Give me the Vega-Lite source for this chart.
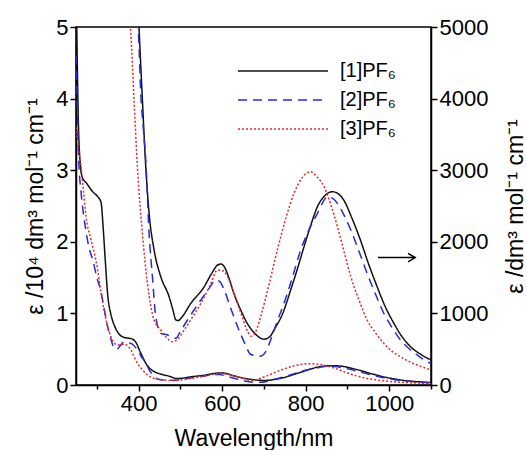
{
  "$schema": "https://vega.github.io/schema/vega-lite/v6.json",
  "width": 355,
  "height": 358,
  "autosize": "none",
  "padding": {"left": 76, "top": 27, "right": 96, "bottom": 65},
  "background": "white",
  "config": {
    "view": {"stroke": "black", "strokeWidth": 1.5},
    "font": "Liberation Sans",
    "axis": {
      "domainColor": "black", "domainWidth": 1.5, "tickColor": "black", "tickWidth": 1.5, "tickSize": 6,
      "labelColor": "black", "titleColor": "black", "labelFontSize": 22, "titleFontSize": 23,
      "titleFontWeight": "normal", "grid": false, "labelFont": "Liberation Sans", "titleFont": "Liberation Sans",
      "labelPadding": 2
    },
    "legend": {
      "orient": "none", "legendX": 197, "legendY": 34, "title": null,
      "symbolType": "M-5,0H5", "symbolSize": 324, "symbolStrokeWidth": 1.5,
      "labelFontSize": 20, "labelFont": "Liberation Sans", "labelColor": "black", "labelOffset": 47, "rowPadding": 9
    }
  },
  "datasets": {
    "spectra": [
      {"compound": "[1]PF₆", "wl": 250, "eps": 55000},
      {"compound": "[1]PF₆", "wl": 253, "eps": 45000},
      {"compound": "[1]PF₆", "wl": 256, "eps": 36000},
      {"compound": "[1]PF₆", "wl": 260, "eps": 31000},
      {"compound": "[1]PF₆", "wl": 265, "eps": 29000},
      {"compound": "[1]PF₆", "wl": 275, "eps": 28200},
      {"compound": "[1]PF₆", "wl": 290, "eps": 27000},
      {"compound": "[1]PF₆", "wl": 302, "eps": 26300},
      {"compound": "[1]PF₆", "wl": 310, "eps": 25500},
      {"compound": "[1]PF₆", "wl": 315, "eps": 22000},
      {"compound": "[1]PF₆", "wl": 320, "eps": 17500},
      {"compound": "[1]PF₆", "wl": 326, "eps": 12500},
      {"compound": "[1]PF₆", "wl": 333, "eps": 10000},
      {"compound": "[1]PF₆", "wl": 342, "eps": 8300},
      {"compound": "[1]PF₆", "wl": 355, "eps": 7000},
      {"compound": "[1]PF₆", "wl": 368, "eps": 6600},
      {"compound": "[1]PF₆", "wl": 380, "eps": 6500},
      {"compound": "[1]PF₆", "wl": 388, "eps": 6300},
      {"compound": "[1]PF₆", "wl": 395, "eps": 5800},
      {"compound": "[1]PF₆", "wl": 401, "eps": 4980},
      {"compound": "[1]PF₆", "wl": 409, "eps": 3980},
      {"compound": "[1]PF₆", "wl": 417, "eps": 3050},
      {"compound": "[1]PF₆", "wl": 425, "eps": 2400},
      {"compound": "[1]PF₆", "wl": 437, "eps": 1885},
      {"compound": "[1]PF₆", "wl": 453, "eps": 1512},
      {"compound": "[1]PF₆", "wl": 473, "eps": 1233},
      {"compound": "[1]PF₆", "wl": 482, "eps": 1050},
      {"compound": "[1]PF₆", "wl": 489, "eps": 910},
      {"compound": "[1]PF₆", "wl": 495, "eps": 900},
      {"compound": "[1]PF₆", "wl": 501, "eps": 930},
      {"compound": "[1]PF₆", "wl": 525, "eps": 1141},
      {"compound": "[1]PF₆", "wl": 557, "eps": 1373},
      {"compound": "[1]PF₆", "wl": 575, "eps": 1560},
      {"compound": "[1]PF₆", "wl": 589, "eps": 1676},
      {"compound": "[1]PF₆", "wl": 597, "eps": 1690},
      {"compound": "[1]PF₆", "wl": 605, "eps": 1652},
      {"compound": "[1]PF₆", "wl": 617, "eps": 1480},
      {"compound": "[1]PF₆", "wl": 628, "eps": 1281},
      {"compound": "[1]PF₆", "wl": 645, "eps": 1040},
      {"compound": "[1]PF₆", "wl": 660, "eps": 862},
      {"compound": "[1]PF₆", "wl": 680, "eps": 710},
      {"compound": "[1]PF₆", "wl": 700, "eps": 640},
      {"compound": "[1]PF₆", "wl": 715, "eps": 680},
      {"compound": "[1]PF₆", "wl": 724, "eps": 768},
      {"compound": "[1]PF₆", "wl": 745, "eps": 1000},
      {"compound": "[1]PF₆", "wl": 764, "eps": 1327},
      {"compound": "[1]PF₆", "wl": 780, "eps": 1620},
      {"compound": "[1]PF₆", "wl": 796, "eps": 1932},
      {"compound": "[1]PF₆", "wl": 812, "eps": 2230},
      {"compound": "[1]PF₆", "wl": 828, "eps": 2490},
      {"compound": "[1]PF₆", "wl": 845, "eps": 2640},
      {"compound": "[1]PF₆", "wl": 864, "eps": 2700},
      {"compound": "[1]PF₆", "wl": 878, "eps": 2670},
      {"compound": "[1]PF₆", "wl": 891, "eps": 2584},
      {"compound": "[1]PF₆", "wl": 910, "eps": 2340},
      {"compound": "[1]PF₆", "wl": 931, "eps": 2025},
      {"compound": "[1]PF₆", "wl": 950, "eps": 1700},
      {"compound": "[1]PF₆", "wl": 971, "eps": 1373},
      {"compound": "[1]PF₆", "wl": 990, "eps": 1100},
      {"compound": "[1]PF₆", "wl": 1011, "eps": 862},
      {"compound": "[1]PF₆", "wl": 1030, "eps": 680},
      {"compound": "[1]PF₆", "wl": 1051, "eps": 535},
      {"compound": "[1]PF₆", "wl": 1075, "eps": 430},
      {"compound": "[1]PF₆", "wl": 1100, "eps": 349},

      {"compound": "[2]PF₆", "wl": 250, "eps": 46000},
      {"compound": "[2]PF₆", "wl": 253, "eps": 39000},
      {"compound": "[2]PF₆", "wl": 256, "eps": 32000},
      {"compound": "[2]PF₆", "wl": 262, "eps": 27000},
      {"compound": "[2]PF₆", "wl": 270, "eps": 23000},
      {"compound": "[2]PF₆", "wl": 282, "eps": 19000},
      {"compound": "[2]PF₆", "wl": 290, "eps": 17500},
      {"compound": "[2]PF₆", "wl": 300, "eps": 15000},
      {"compound": "[2]PF₆", "wl": 310, "eps": 13000},
      {"compound": "[2]PF₆", "wl": 318, "eps": 10500},
      {"compound": "[2]PF₆", "wl": 326, "eps": 8100},
      {"compound": "[2]PF₆", "wl": 334, "eps": 6300},
      {"compound": "[2]PF₆", "wl": 342, "eps": 5100},
      {"compound": "[2]PF₆", "wl": 348, "eps": 5000},
      {"compound": "[2]PF₆", "wl": 356, "eps": 5500},
      {"compound": "[2]PF₆", "wl": 365, "eps": 6000},
      {"compound": "[2]PF₆", "wl": 375, "eps": 5900},
      {"compound": "[2]PF₆", "wl": 385, "eps": 5700},
      {"compound": "[2]PF₆", "wl": 395, "eps": 5100},
      {"compound": "[2]PF₆", "wl": 400, "eps": 4850},
      {"compound": "[2]PF₆", "wl": 405, "eps": 4074},
      {"compound": "[2]PF₆", "wl": 411, "eps": 3600},
      {"compound": "[2]PF₆", "wl": 417, "eps": 3142},
      {"compound": "[2]PF₆", "wl": 425, "eps": 2120},
      {"compound": "[2]PF₆", "wl": 433, "eps": 1512},
      {"compound": "[2]PF₆", "wl": 441, "eps": 953},
      {"compound": "[2]PF₆", "wl": 453, "eps": 722},
      {"compound": "[2]PF₆", "wl": 469, "eps": 698},
      {"compound": "[2]PF₆", "wl": 480, "eps": 670},
      {"compound": "[2]PF₆", "wl": 489, "eps": 652},
      {"compound": "[2]PF₆", "wl": 500, "eps": 750},
      {"compound": "[2]PF₆", "wl": 517, "eps": 908},
      {"compound": "[2]PF₆", "wl": 549, "eps": 1187},
      {"compound": "[2]PF₆", "wl": 570, "eps": 1360},
      {"compound": "[2]PF₆", "wl": 585, "eps": 1466},
      {"compound": "[2]PF₆", "wl": 593, "eps": 1450},
      {"compound": "[2]PF₆", "wl": 605, "eps": 1327},
      {"compound": "[2]PF₆", "wl": 620, "eps": 1080},
      {"compound": "[2]PF₆", "wl": 637, "eps": 814},
      {"compound": "[2]PF₆", "wl": 655, "eps": 570},
      {"compound": "[2]PF₆", "wl": 668, "eps": 430},
      {"compound": "[2]PF₆", "wl": 690, "eps": 400},
      {"compound": "[2]PF₆", "wl": 705, "eps": 470},
      {"compound": "[2]PF₆", "wl": 716, "eps": 628},
      {"compound": "[2]PF₆", "wl": 730, "eps": 860},
      {"compound": "[2]PF₆", "wl": 748, "eps": 1141},
      {"compound": "[2]PF₆", "wl": 768, "eps": 1500},
      {"compound": "[2]PF₆", "wl": 788, "eps": 1885},
      {"compound": "[2]PF₆", "wl": 808, "eps": 2170},
      {"compound": "[2]PF₆", "wl": 828, "eps": 2398},
      {"compound": "[2]PF₆", "wl": 840, "eps": 2540},
      {"compound": "[2]PF₆", "wl": 852, "eps": 2630},
      {"compound": "[2]PF₆", "wl": 864, "eps": 2610},
      {"compound": "[2]PF₆", "wl": 876, "eps": 2537},
      {"compound": "[2]PF₆", "wl": 892, "eps": 2370},
      {"compound": "[2]PF₆", "wl": 908, "eps": 2165},
      {"compound": "[2]PF₆", "wl": 928, "eps": 1860},
      {"compound": "[2]PF₆", "wl": 947, "eps": 1560},
      {"compound": "[2]PF₆", "wl": 967, "eps": 1270},
      {"compound": "[2]PF₆", "wl": 987, "eps": 1001},
      {"compound": "[2]PF₆", "wl": 1007, "eps": 800},
      {"compound": "[2]PF₆", "wl": 1027, "eps": 628},
      {"compound": "[2]PF₆", "wl": 1047, "eps": 510},
      {"compound": "[2]PF₆", "wl": 1067, "eps": 419},
      {"compound": "[2]PF₆", "wl": 1085, "eps": 345},
      {"compound": "[2]PF₆", "wl": 1100, "eps": 300},

      {"compound": "[3]PF₆", "wl": 250, "eps": 36000},
      {"compound": "[3]PF₆", "wl": 254, "eps": 33800},
      {"compound": "[3]PF₆", "wl": 262, "eps": 30500},
      {"compound": "[3]PF₆", "wl": 268, "eps": 27000},
      {"compound": "[3]PF₆", "wl": 274, "eps": 23500},
      {"compound": "[3]PF₆", "wl": 285, "eps": 20500},
      {"compound": "[3]PF₆", "wl": 294, "eps": 18400},
      {"compound": "[3]PF₆", "wl": 302, "eps": 16000},
      {"compound": "[3]PF₆", "wl": 310, "eps": 12800},
      {"compound": "[3]PF₆", "wl": 318, "eps": 10200},
      {"compound": "[3]PF₆", "wl": 326, "eps": 8100},
      {"compound": "[3]PF₆", "wl": 334, "eps": 6700},
      {"compound": "[3]PF₆", "wl": 342, "eps": 5800},
      {"compound": "[3]PF₆", "wl": 352, "eps": 5600},
      {"compound": "[3]PF₆", "wl": 366, "eps": 5700},
      {"compound": "[3]PF₆", "wl": 375, "eps": 5400},
      {"compound": "[3]PF₆", "wl": 381, "eps": 4935},
      {"compound": "[3]PF₆", "wl": 389, "eps": 3980},
      {"compound": "[3]PF₆", "wl": 397, "eps": 3049},
      {"compound": "[3]PF₆", "wl": 409, "eps": 2119},
      {"compound": "[3]PF₆", "wl": 421, "eps": 1420},
      {"compound": "[3]PF₆", "wl": 437, "eps": 908},
      {"compound": "[3]PF₆", "wl": 453, "eps": 768},
      {"compound": "[3]PF₆", "wl": 467, "eps": 660},
      {"compound": "[3]PF₆", "wl": 481, "eps": 605},
      {"compound": "[3]PF₆", "wl": 495, "eps": 650},
      {"compound": "[3]PF₆", "wl": 509, "eps": 768},
      {"compound": "[3]PF₆", "wl": 529, "eps": 950},
      {"compound": "[3]PF₆", "wl": 549, "eps": 1141},
      {"compound": "[3]PF₆", "wl": 570, "eps": 1380},
      {"compound": "[3]PF₆", "wl": 589, "eps": 1606},
      {"compound": "[3]PF₆", "wl": 600, "eps": 1600},
      {"compound": "[3]PF₆", "wl": 613, "eps": 1512},
      {"compound": "[3]PF₆", "wl": 630, "eps": 1250},
      {"compound": "[3]PF₆", "wl": 645, "eps": 1001},
      {"compound": "[3]PF₆", "wl": 660, "eps": 760},
      {"compound": "[3]PF₆", "wl": 670, "eps": 680},
      {"compound": "[3]PF₆", "wl": 680, "eps": 740},
      {"compound": "[3]PF₆", "wl": 692, "eps": 953},
      {"compound": "[3]PF₆", "wl": 712, "eps": 1400},
      {"compound": "[3]PF₆", "wl": 732, "eps": 1885},
      {"compound": "[3]PF₆", "wl": 752, "eps": 2320},
      {"compound": "[3]PF₆", "wl": 772, "eps": 2677},
      {"compound": "[3]PF₆", "wl": 792, "eps": 2900},
      {"compound": "[3]PF₆", "wl": 812, "eps": 2979},
      {"compound": "[3]PF₆", "wl": 828, "eps": 2900},
      {"compound": "[3]PF₆", "wl": 844, "eps": 2770},
      {"compound": "[3]PF₆", "wl": 860, "eps": 2520},
      {"compound": "[3]PF₆", "wl": 876, "eps": 2211},
      {"compound": "[3]PF₆", "wl": 892, "eps": 1860},
      {"compound": "[3]PF₆", "wl": 908, "eps": 1512},
      {"compound": "[3]PF₆", "wl": 928, "eps": 1180},
      {"compound": "[3]PF₆", "wl": 947, "eps": 908},
      {"compound": "[3]PF₆", "wl": 967, "eps": 730},
      {"compound": "[3]PF₆", "wl": 987, "eps": 582},
      {"compound": "[3]PF₆", "wl": 1007, "eps": 470},
      {"compound": "[3]PF₆", "wl": 1027, "eps": 395},
      {"compound": "[3]PF₆", "wl": 1047, "eps": 330},
      {"compound": "[3]PF₆", "wl": 1067, "eps": 279},
      {"compound": "[3]PF₆", "wl": 1085, "eps": 240},
      {"compound": "[3]PF₆", "wl": 1100, "eps": 209}
    ],
    "arrow": [
      {"wl": 973, "wl2": 1062, "eps": 1780}
    ]
  },
  "layer": [
    {
      "data": {"name": "spectra"},
      "mark": {"type": "line", "clip": true, "strokeWidth": 1.5, "interpolate": "monotone"},
      "encoding": {
        "x": {
          "field": "wl", "type": "quantitative",
          "scale": {"domain": [250, 1100], "nice": false, "zero": false},
          "axis": {
            "title": "Wavelength/nm", "values": [300, 400, 500, 600, 700, 800, 900, 1000, 1100],
            "format": "d",
            "labelExpr": "datum.value % 200 === 0 ? datum.label : ''",
            "tickSize": {"condition": {"test": "datum.value % 200 === 0", "value": 6}, "value": 4},
            "titlePadding": 13
          }
        },
        "y": {
          "field": "eps", "type": "quantitative",
          "scale": {"domain": [0, 50000], "nice": false},
          "axis": {
            "title": "ε /10⁴ dm³ mol⁻¹ cm⁻¹",
            "values": [0, 10000, 20000, 30000, 40000, 50000],
            "labelExpr": "format(datum.value / 10000, 'd')",
            "titlePadding": 8
          }
        },
        "color": {
          "field": "compound", "type": "nominal",
          "scale": {"domain": ["[1]PF₆", "[2]PF₆", "[3]PF₆"], "range": ["#111111", "#2a2ad8", "#e62828"]}
        },
        "strokeDash": {
          "field": "compound", "type": "nominal",
          "scale": {"domain": ["[1]PF₆", "[2]PF₆", "[3]PF₆"], "range": [[1, 0], [9, 6], [2, 2]]}
        }
      }
    },
    {
      "layer": [
        {
          "data": {"name": "spectra"},
          "mark": {"type": "line", "clip": true, "strokeWidth": 1.5, "interpolate": "monotone"},
          "encoding": {
            "x": {"field": "wl", "type": "quantitative"},
            "y": {
              "field": "eps", "type": "quantitative",
              "scale": {"domain": [0, 5000], "nice": false},
              "axis": {
                "orient": "right",
                "title": "ε /dm³ mol⁻¹ cm⁻¹",
                "titleAngle": 270,
                "titleBaseline": "top",
                "values": [0, 500, 1000, 1500, 2000, 2500, 3000, 3500, 4000, 4500, 5000],
                "format": "d",
                "labelExpr": "datum.value % 1000 === 0 ? datum.label : ''",
                "tickSize": {"condition": {"test": "datum.value % 1000 === 0", "value": 6}, "value": 4},
                "titlePadding": 17
              }
            },
            "color": {"field": "compound", "type": "nominal"},
            "strokeDash": {"field": "compound", "type": "nominal"}
          }
        },
        {
          "data": {"name": "arrow"},
          "mark": {"type": "rule", "color": "black", "strokeWidth": 1.5},
          "encoding": {
            "x": {"field": "wl", "type": "quantitative"},
            "x2": {"field": "wl2"},
            "y": {"field": "eps", "type": "quantitative"}
          }
        },
        {
          "data": {"name": "arrow"},
          "mark": {"type": "point", "shape": "M-1,-0.6L0,0L-1,0.6", "filled": false, "stroke": "black", "strokeWidth": 1.5, "size": 200, "opacity": 1},
          "encoding": {
            "x": {"field": "wl2", "type": "quantitative"},
            "y": {"field": "eps", "type": "quantitative"}
          }
        }
      ]
    }
  ],
  "resolve": {"scale": {"y": "independent"}}
}
